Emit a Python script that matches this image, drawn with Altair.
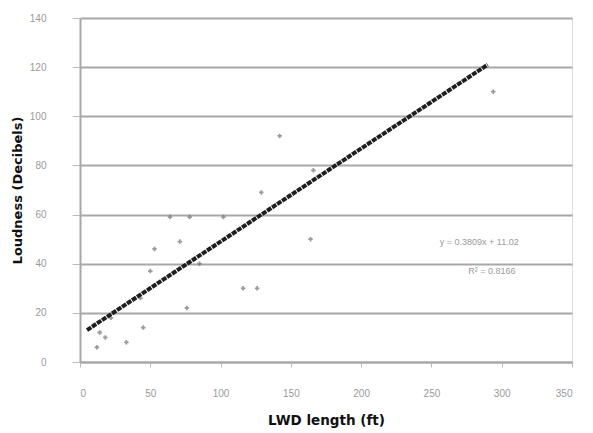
import altair as alt
import pandas as pd

lwd_length = [12, 14, 18, 33, 45, 43, 50, 53, 71, 64, 78, 102, 76, 116, 126, 129, 142, 166, 164, 294, 22, 85]
loudness =   [6, 12, 10, 8, 14, 26, 37, 46, 49, 59, 59, 59, 22, 30, 30, 69, 92, 78, 50, 110, 18, 40]

# Trend line end points as drawn
trend_x = [5, 290]
trend_y = [13, 121]

# Equation labels
eq_text = ["y = 0.3809x + 11.02", "R² = 0.8166"]
eq_x = [284, 293]
eq_y = [49, 37]

x_ticks = [0, 50, 100, 150, 200, 250, 300, 350]
y_ticks = [0, 20, 40, 60, 80, 100, 120, 140]

pts = pd.DataFrame({"x": lwd_length, "y": loudness})
trend = pd.DataFrame({"x": trend_x, "y": trend_y})
eq = pd.DataFrame({"x": eq_x, "y": eq_y, "t": eq_text})

xs = alt.Scale(domain=[0, 350], nice=False)
ys = alt.Scale(domain=[0, 140], nice=False)

x_axis = alt.Axis(values=x_ticks, title="LWD length (ft)", grid=False,
                  labelColor="#9a9a9a", labelFontSize=10, labelPadding=21,
                  titleFontSize=13.5, titleFont="DejaVu Sans", titleFontWeight="bold",
                  titleColor="#111", titleX=246, titleY=58, titleBaseline="middle",
                  domainColor="#a8a8a8",
                  domainWidth=2, tickColor="#bbbbbb", tickSize=5)
y_axis = alt.Axis(values=y_ticks, title="Loudness (Decibels)", grid=True,
                  gridColor="#a8a8a8", gridWidth=2,
                  labelColor="#9a9a9a", labelFontSize=10, labelPadding=26,
                  titleFontSize=13, titleFont="DejaVu Sans", titleFontWeight="bold",
                  titleColor="#111", titleX=-63, titleY=172, titleAngle=-90,
                  titleBaseline="middle", titleAlign="center",
                  domainColor="#a8a8a8",
                  domainWidth=2, tickColor="#bbbbbb", tickSize=8)

points = alt.Chart(pts).mark_point(shape="cross", filled=True, size=20, color="#707070").encode(
    x=alt.X("x:Q", scale=xs, axis=x_axis),
    y=alt.Y("y:Q", scale=ys, axis=y_axis),
)

line = alt.Chart(trend).mark_line(color="#1e1e1e", strokeWidth=4, strokeDash=[5, 1]).encode(
    x=alt.X("x:Q", scale=xs),
    y=alt.Y("y:Q", scale=ys),
)

labels = alt.Chart(eq).mark_text(color="#9a9a9a", fontSize=9, align="center").encode(
    x=alt.X("x:Q", scale=xs),
    y=alt.Y("y:Q", scale=ys),
    text="t:N",
)

chart = alt.layer(points, line, labels).properties(
    width=492, height=344,
    autosize=alt.AutoSizeParams(type="none"),
    padding={"left": 72, "top": 10, "right": 5, "bottom": 70},
).configure_view(stroke=None).configure(background="white")

chart.save("out.html", embed_options={"renderer": "svg", "actions": False})
